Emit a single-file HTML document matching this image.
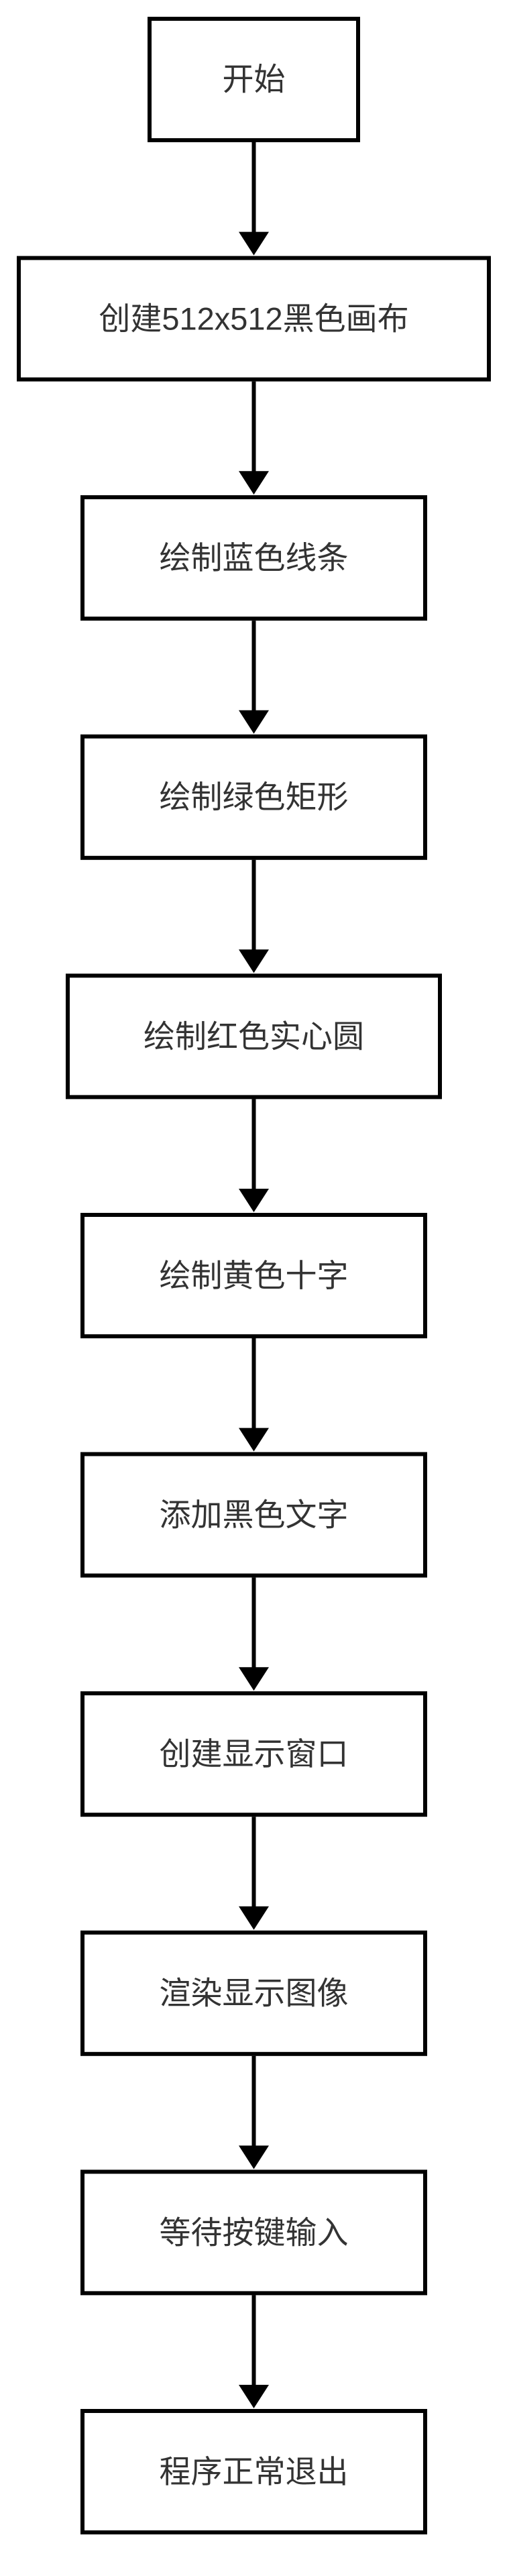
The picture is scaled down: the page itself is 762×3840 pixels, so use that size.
<!DOCTYPE html>
<html><head><meta charset="utf-8"><style>
html,body{margin:0;padding:0;background:#fff;}
svg{display:block;}
text{font-family:"Liberation Sans","Noto Sans CJK SC",sans-serif;font-size:47px;fill:#333;text-anchor:middle;dominant-baseline:central;}
</style></head><body>
<svg width="762" height="3840" viewBox="0 0 762 3840" xmlns="http://www.w3.org/2000/svg">
<g fill="none" stroke="#000" stroke-width="6">
<rect x="223" y="28" width="311" height="181"/>
<rect x="28" y="384.6" width="701" height="181"/>
<rect x="123" y="741.2" width="511" height="181"/>
<rect x="123" y="1097.8" width="511" height="181"/>
<rect x="101" y="1454.4" width="555" height="181"/>
<rect x="123" y="1811" width="511" height="181"/>
<rect x="123" y="2167.6" width="511" height="181"/>
<rect x="123" y="2524.2" width="511" height="181"/>
<rect x="123" y="2880.8" width="511" height="181"/>
<rect x="123" y="3237.4" width="511" height="181"/>
<rect x="123" y="3594" width="511" height="181"/>
</g>
<g stroke="#000" stroke-width="6">
<line x1="378.5" y1="212" x2="378.5" y2="348"/>
<line x1="378.5" y1="568.6" x2="378.5" y2="704.6"/>
<line x1="378.5" y1="925.2" x2="378.5" y2="1061.2"/>
<line x1="378.5" y1="1281.8" x2="378.5" y2="1417.8"/>
<line x1="378.5" y1="1638.4" x2="378.5" y2="1774.4"/>
<line x1="378.5" y1="1995" x2="378.5" y2="2131"/>
<line x1="378.5" y1="2351.6" x2="378.5" y2="2487.6"/>
<line x1="378.5" y1="2708.2" x2="378.5" y2="2844.2"/>
<line x1="378.5" y1="3064.8" x2="378.5" y2="3200.8"/>
<line x1="378.5" y1="3421.4" x2="378.5" y2="3557.4"/>
</g>
<g fill="#000">
<polygon points="356,345.6 401,345.6 378.5,380.6"/>
<polygon points="356,702.2 401,702.2 378.5,737.2"/>
<polygon points="356,1058.8 401,1058.8 378.5,1093.8"/>
<polygon points="356,1415.4 401,1415.4 378.5,1450.4"/>
<polygon points="356,1772 401,1772 378.5,1807"/>
<polygon points="356,2128.6 401,2128.6 378.5,2163.6"/>
<polygon points="356,2485.2 401,2485.2 378.5,2520.2"/>
<polygon points="356,2841.8 401,2841.8 378.5,2876.8"/>
<polygon points="356,3198.4 401,3198.4 378.5,3233.4"/>
<polygon points="356,3555 401,3555 378.5,3590"/>
</g>
<text x="378.5" y="118">开始</text>
<text x="378.5" y="475">创建512x512黑色画布</text>
<text x="378.5" y="831.5">绘制蓝色线条</text>
<text x="378.5" y="1188">绘制绿色矩形</text>
<text x="378.5" y="1545">绘制红色实心圆</text>
<text x="378.5" y="1901.5">绘制黄色十字</text>
<text x="378.5" y="2258">添加黑色文字</text>
<text x="378.5" y="2614.5">创建显示窗口</text>
<text x="378.5" y="2971">渲染显示图像</text>
<text x="378.5" y="3328">等待按键输入</text>
<text x="378.5" y="3684.5">程序正常退出</text>
</svg>
</body></html>
